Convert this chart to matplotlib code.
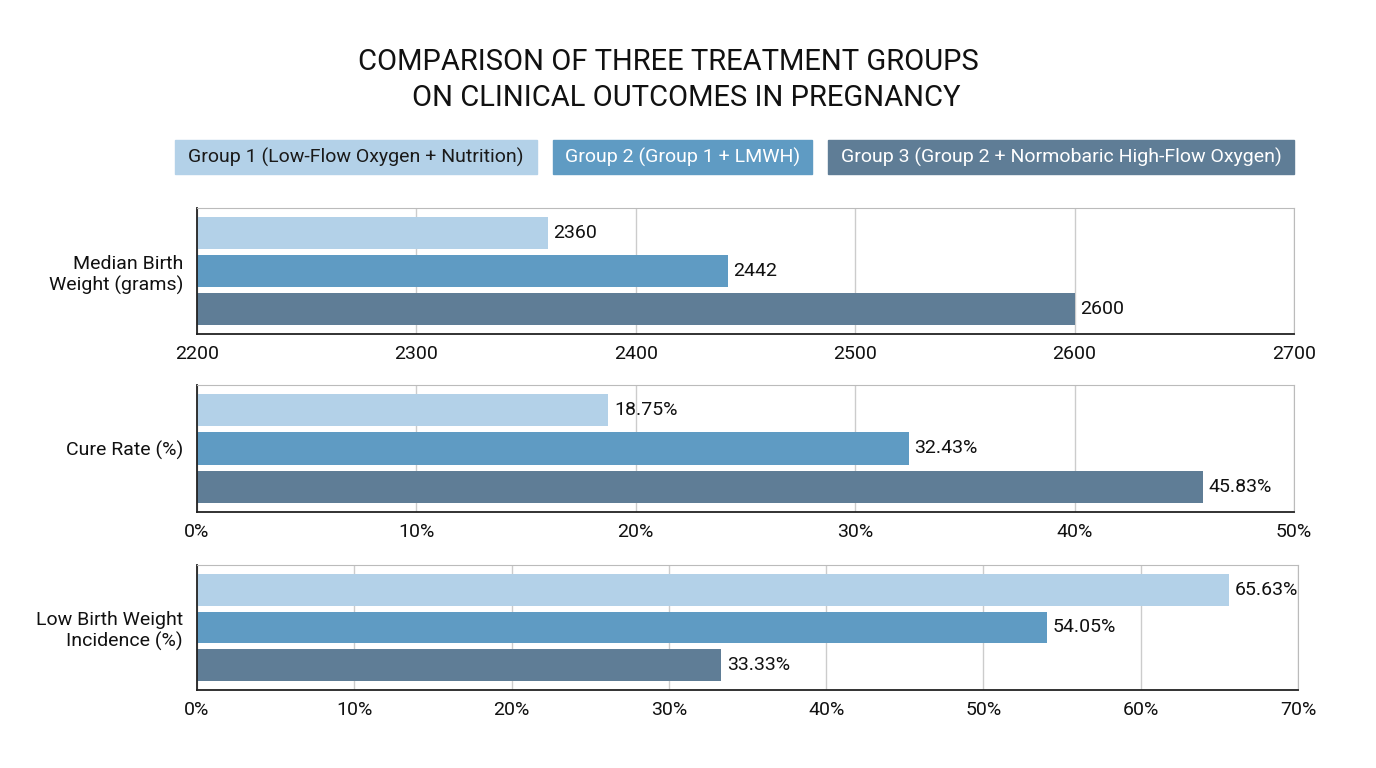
import matplotlib.pyplot as plt
from matplotlib.patches import Rectangle

plt.rcParams['font.family'] = ['Roboto', 'DejaVu Sans']

groups = ['Group 1 (Low-Flow Oxygen + Nutrition)',
          'Group 2 (Group 1 + LMWH)',
          'Group 3 (Group 2 + Normobaric High-Flow Oxygen)']
colors = ['#b3d1e8', '#5f9bc3', '#5f7d96']
text_colors = ['#1a1a1a', 'white', 'white']

metrics = ['Median Birth\nWeight (grams)', 'Cure Rate (%)', 'Low Birth Weight\nIncidence (%)']
birth_weight = [2360, 2442, 2600]
cure_rate = [18.75, 32.43, 45.83]
lbw_incidence = [65.63, 54.05, 33.33]
values = [birth_weight, cure_rate, lbw_incidence]

x_ranges = [(2200, 2700), (0, 50), (0, 70)]
x_steps = [100, 10, 10]
label_fmt = ['{:.0f}', '{:.2f}%', '{:.2f}%']
tick_fmt = ['{:.0f}', '{:.0f}%', '{:.0f}%']

W, H = 1376, 768
fig = plt.figure(figsize=(W / 100, H / 100), dpi=100)

# title
fig.text(668 / W, 1 - 62 / H, 'COMPARISON OF THREE TREATMENT GROUPS',
         ha='center', va='center', fontsize=21, color='#111111')
fig.text(686 / W, 1 - 98 / H, 'ON CLINICAL OUTCOMES IN PREGNANCY',
         ha='center', va='center', fontsize=21, color='#111111')

# legend boxes
boxes = [(175, 537), (553, 812), (828, 1294)]
for (x0, x1), g, c, tc in zip(boxes, groups, colors, text_colors):
    fig.patches.append(Rectangle((x0 / W, 1 - 174 / H), (x1 - x0) / W, 34 / H,
                                 transform=fig.transFigure, color=c))
    fig.text((x0 + x1) / 2 / W, 1 - 157 / H, g, ha='center', va='center',
             fontsize=14, color=tc)

# panels (pixel boxes: left, top, right, bottom)
panels = [(197, 208, 1294, 334), (197, 385, 1294, 512), (197, 565, 1298, 690)]

for (l, t, r, b), name, vals, xr, step, lf, tf in zip(
        panels, metrics, values, x_ranges, x_steps, label_fmt, tick_fmt):
    ax = fig.add_axes([l / W, 1 - b / H, (r - l) / W, (b - t) / H])
    pos = range(len(vals))
    ax.barh(pos, [v - xr[0] for v in vals], left=xr[0], height=0.84,
            color=colors, zorder=2)
    for p, v in zip(pos, vals):
        ax.text(v + (xr[1] - xr[0]) * 0.005, p, lf.format(v), va='center',
                ha='left', fontsize=14, color='#111111', zorder=3)
    ax.set_xlim(*xr)
    ax.set_ylim(2.66, -0.66)
    ticks = list(range(xr[0], xr[1] + 1, step))
    ax.set_xticks(ticks)
    ax.set_xticklabels([tf.format(x) for x in ticks], fontsize=14, color='#111111')
    ax.set_yticks([1])
    ax.set_yticklabels([name], fontsize=14, color='#111111',
                       multialignment='right')
    ax.tick_params(length=0, axis='both')
    ax.tick_params(axis='x', pad=8)
    ax.tick_params(axis='y', pad=10)
    ax.grid(axis='x', color='#cccccc', linewidth=1, zorder=0)
    for s in ['top', 'right']:
        ax.spines[s].set_color('#bbbbbb')
    for s in ['left', 'bottom']:
        ax.spines[s].set_color('#222222')
        ax.spines[s].set_linewidth(1.3)

fig.savefig('out.png', dpi=100)
